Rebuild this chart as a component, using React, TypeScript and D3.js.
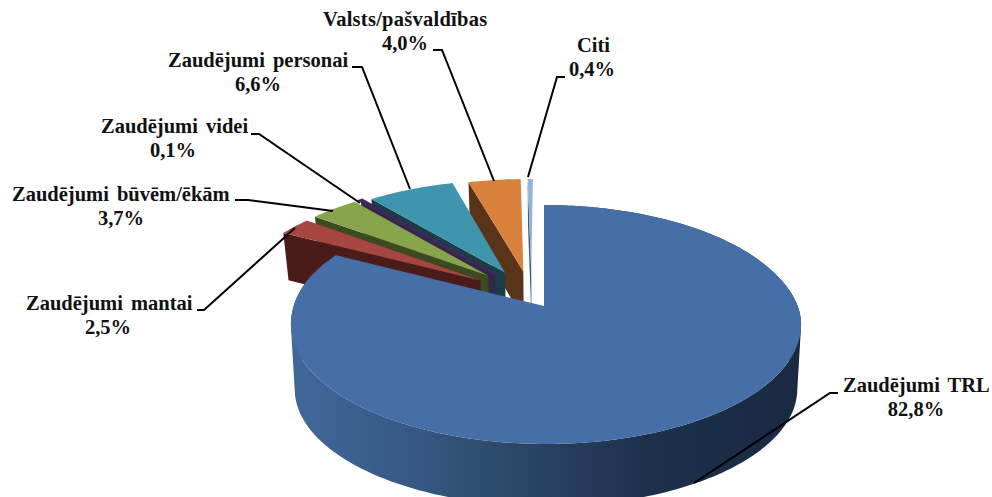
import React from "react";
import * as d3 from "d3";

const clockwiseCategories = ["Zaudējumi TRL", "Zaudējumi mantai", "Zaudējumi būvēm/ēkām", "Zaudējumi videi", "Zaudējumi personai", "Valsts/pašvaldības", "Citi"];
const values = [82.8, 2.5, 3.7, 0.1, 6.6, 4.0, 0.4];
const valueLabels = ["82,8%", "2,5%", "3,7%", "0,1%", "6,6%", "4,0%", "0,4%"];
const topColors = ["#456FA6", "#A64541", "#86A44A", "#3C2A54", "#3F95AD", "#D9823B", "#94B3DC"];
const wallColors = ["#1A2C45", "#4A1B18", "#3C4A20", "#35264C", "#1B3D49", "#5A3418", "#41597A"];
const drawOrder = [6, 5, 4, 3, 2, 1, 0];

// label placement: [name x, name baseline, percent centre x, percent baseline, word gap, letter gap]
const labelLayout: number[][] = [
  [843, 392, 916, 416, 3, 0],
  [26, 310, 108, 334, 3, 0],
  [12, 201, 121, 225, 3, 0],
  [101, 133, 173, 157, 3, 0],
  [168, 67, 258, 91, 3, 0],
  [323, 26, 405, 50, 0, 0.25],
  [577, 52, 592, 76, 0, 0],
];
const leaderLines: [number, number][][] = [
  [[838, 393], [830, 393], [694, 483]],
  [[197, 310], [204, 310], [295, 228]],
  [[235, 200], [248, 200], [333, 211]],
  [[251, 134], [259, 134], [360, 203]],
  [[352, 67], [362, 67], [410, 189]],
  [[433, 50], [442, 50], [494, 181]],
  [[565, 77], [557, 77], [528, 177]],
];

const W = 992, H = 497;
const ox = 544, oy = 306, sx = 252, ky = 116.6, persp = 0.155;
const centre = { x: -0.05, y: -0.196 }, explodeX = 0.24, explodeY = 0.115;
const explodeNudgeX = [0, -0.008, -0.006, 0, 0, 0, 0];
const explodeNudgeY = [0, 0.03, 0.005, 0, 0, 0, 0];

type P = { X: number; Y: number };
type Pt = [number, number];
const shift = (Y: number) => {
  const t = Math.max(0, Math.min(1, (Y + 0.4) / 0.55));
  return 2 * t * t * (3 - 2 * t);
};
const top = (p: P): Pt => {
  const den = 1 - persp * p.Y;
  return [ox + (sx * p.X) / den, oy + (ky * p.Y) / den];
};
const mainTop = (p: P): Pt => {
  const [x, y] = top(p);
  return [x + shift(p.Y), y];
};
// floor of the raised slices (seen from further back)
const backFloor = (p: P): Pt => {
  const den = 1 - persp * p.Y;
  return [ox + (0.98 * sx * p.X) / den, oy + 50 + (1.037 * ky * p.Y) / den];
};
// floor of the big slice
const mainFloor = (p: P): Pt => {
  const den = 1 - persp * p.Y;
  return [ox + shift(p.Y) + (0.985 * sx * p.X) / den, oy + 65 + (0.98 * ky * p.Y) / den];
};
const lineGen = d3.line<Pt>();
const closed = (pts: Pt[]) => lineGen(pts) + "Z";

export default function App() {
  const arcs = d3.pie<number>().sort(null)(values);
  const sliceData = arcs.map((a, i) => {
    const mid = (a.startAngle + a.endAngle) / 2;
    const apex: P = i === 0 ? { X: 0, Y: 0 } : {
      X: centre.x + explodeX * Math.sin(mid) + explodeNudgeX[i],
      Y: centre.y - explodeY * Math.cos(mid) + explodeNudgeY[i],
    };
    const n = Math.max(2, Math.ceil((a.endAngle - a.startAngle) * 60));
    const rim: P[] = d3.range(n + 1).map((k) => {
      const t = a.startAngle + ((a.endAngle - a.startAngle) * k) / n;
      return { X: apex.X + Math.sin(t), Y: apex.Y - Math.cos(t) };
    });
    return { i, apex, rim };
  });

  return (
    <svg width={W} height={H} style={{ position: "absolute", left: 0, top: 0, background: "#fff" }}>
      <defs>
        <linearGradient id="mainWall" gradientUnits="userSpaceOnUse" x1={291} x2={801} y1={0} y2={0}>
          <stop offset="0" stopColor="#40689A" />
          <stop offset="0.22" stopColor="#375A85" />
          <stop offset="0.45" stopColor="#2B4666" />
          <stop offset="0.7" stopColor="#1C304C" />
          <stop offset="1" stopColor="#192A42" />
        </linearGradient>
      </defs>
      {drawOrder.map((i) => {
        const { apex, rim } = sliceData[i];
        if (i === 0) {
          // the wall is the union of small quads, all wound the same way, so the silhouette is filled
          const wall = d3.pairs(rim).map(([a, b]) => {
            const quad: Pt[] = [mainTop(a), mainTop(b), mainFloor(b), mainFloor(a)];
            return closed(d3.polygonArea(quad) < 0 ? quad.slice().reverse() : quad);
          }).join("");
          const face = closed([top(apex), ...rim.map(mainTop)]);
          return (
            <g key={i}>
              <path d={wall} fill="url(#mainWall)" />
              <path d={face} fill={topColors[i]} />
            </g>
          );
        }
        const corner = rim[0];
        const radialWall = closed([top(corner), top(apex), backFloor(apex), backFloor(corner)]);
        const topFace = closed([top(apex), ...rim.map(top)]);
        return (
          <g key={i}>
            <path d={radialWall} fill={wallColors[i]} />
            <path d={topFace} fill={topColors[i]} stroke={i === 3 ? topColors[i] : "none"} strokeWidth={i === 3 ? 3 : 0} />
          </g>
        );
      })}
      {leaderLines.map((pts, i) => (
        <path key={i} d={lineGen(pts) as string} fill="none" stroke="#000" strokeWidth={2} />
      ))}
      <g fontFamily="'Liberation Serif', serif" fontWeight="bold" fontSize={20.5} fill="#111">
        {clockwiseCategories.map((name, i) => {
          const [nx, ny, px, py, gap, spacing] = labelLayout[i];
          return (
            <g key={name}>
              <text x={nx} y={ny} wordSpacing={gap} letterSpacing={spacing}>{name}</text>
              <text x={px} y={py} textAnchor="middle">{valueLabels[i]}</text>
            </g>
          );
        })}
      </g>
    </svg>
  );
}
